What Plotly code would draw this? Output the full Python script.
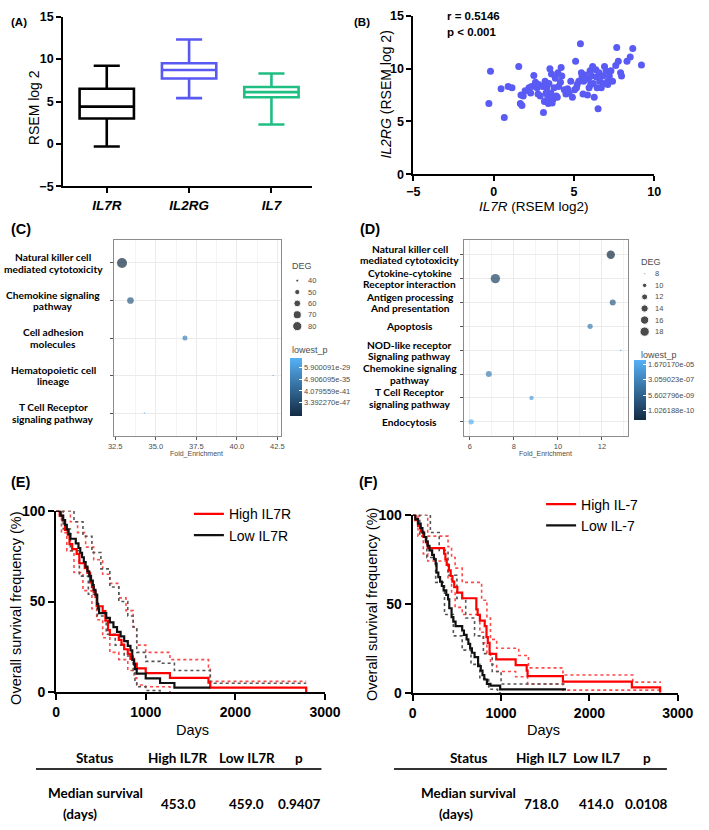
import math
import plotly.graph_objects as go

W, H = 709, 830
FONT = "Liberation Sans, Arial, sans-serif"
LFONT = "Lato, sans-serif"
GREY_TXT = "#4D4D4D"

# ---------------- (A) expression box plot ----------------
genes = ["IL7R", "IL2RG", "IL7"]
box_low = [-0.3, 5.4, 2.3]
box_q1 = [3.0, 7.7, 5.5]
box_med = [4.4, 8.7, 6.1]
box_q3 = [6.5, 9.5, 6.7]
box_high = [9.2, 12.3, 8.3]
box_colors = ["#000000", "#5858F2", "#1FBE82"]

# ---------------- (B) correlation scatter ----------------
b_il7r = [-0.2, -0.3, 0.46, 0.66, 0.9, 1.14, 1.56, 1.66, 1.76, 1.84, 1.96, 2.2, 2.36, 2.5, 2.6,
          2.7, 2.76, 2.8, 3.1, 3.04, 3.16, 3.2, 3.3, 3.36, 3.4, 3.44, 3.5, 3.56, 3.6, 3.7,
          3.76, 3.84, 4.0, 4.16, 4.2, 4.24, 3.96, 4.4, 4.5, 4.6, 4.8, 4.9, 5.04, 5.1, 5.16,
          5.3, 5.4, 5.46, 5.5, 5.56, 5.6, 5.7, 5.84, 5.9, 6.0, 6.1, 6.16, 6.2, 6.26, 6.36,
          6.4, 6.44, 6.5, 6.56, 6.6, 6.7, 6.8, 6.9, 7.0, 7.1, 7.2, 7.3, 7.4, 7.6, 7.66,
          7.76, 7.9, 7.96, 8.3, 8.5, 8.66, 9.2, 1.7, 2.3, 2.9, 3.26, 3.52, 3.64, 3.9, 4.04,
          4.7, 5.2, 5.94, 6.04, 6.8, 7.1]
b_il2rg = [9.75, 6.7, 8.1, 5.37, 8.3, 8.2, 10.2, 6.7, 6.5, 7.4, 7.9, 8.2, 8.3, 9.35, 8.7,
           8.2, 7.6, 8.5, 5.84, 8.3, 6.9, 8.8, 8.2, 7.4, 6.7, 8.6, 10.0, 7.7, 9.5, 7.1,
           8.2, 9.1, 9.6, 8.7, 10.1, 9.3, 7.3, 8.0, 7.6, 8.1, 8.8, 7.3, 8.0, 10.7, 8.2,
           8.8, 12.35, 9.6, 9.2, 7.6, 8.8, 9.4, 7.5, 9.0, 9.8, 9.3, 10.2, 8.6, 7.3, 9.9,
           9.2, 8.2, 6.2, 9.6, 8.8, 8.2, 9.3, 10.2, 9.8, 8.8, 9.3, 9.8, 8.8, 10.3, 12.0,
           10.7, 9.6, 9.3, 10.7, 11.1, 11.9, 10.35, 7.5, 7.7, 7.4, 7.7, 7.2, 6.75, 7.4, 8.3,
           7.7, 8.5, 8.2, 8.5, 8.6, 8.5]
b_stats = ["r = 0.5146", "p < 0.001"]

# ---------------- (C) KEGG dot plot ----------------
c_labels = [["Natural killer cell", "mediated cytotoxicity"], ["Chemokine signaling", "pathway"],
            ["Cell adhesion", "molecules"], ["Hematopoietic cell", "lineage"],
            ["T Cell Receptor", "signaling pathway"]]
c_fold = [32.92, 33.44, 36.8, 42.24, 34.3]
c_deg = [88, 59, 49, 37, 37]
c_logp = [-53.2, -42.0, -33.5, -24.5, -23.0]
c_deg_breaks = [40, 50, 60, 70, 80]
c_p_ticks = ["5.900091e-29", "4.906095e-35", "4.079559e-41", "3.392270e-47"]
c_p_range = [-53.2, -23.0]

# ---------------- (D) KEGG dot plot ----------------
d_labels = [["Natural killer cell", "mediated cytotoxicity"], ["Cytokine-cytokine", "Receptor interaction"],
            ["Antigen processing", "And presentation"], ["Apoptosis"],
            ["NOD-like receptor", "Signaling pathway"], ["Chemokine signaling", "pathway"],
            ["T Cell Receptor", "signaling pathway"], ["Endocytosis"]]
d_fold = [12.40, 7.16, 12.49, 11.46, 12.85, 6.86, 8.80, 6.06]
d_deg = [16, 18, 12, 11, 8, 12, 10, 11]
d_logp = [-11.13, -10.0, -8.6, -7.0, -5.0, -6.8, -5.3, -4.32]
d_deg_breaks = [8, 10, 12, 14, 16, 18]
d_p_ticks = ["1.670170e-05", "3.059023e-07", "5.602796e-09", "1.026188e-10"]
d_p_range = [-11.13, -4.32]

# ---------------- (E) KM IL7R ----------------
e_hi_t = [0, 40, 70, 100, 130, 150, 180, 230, 260, 320, 350, 380, 400, 420, 440, 453, 520, 550, 580,
          600, 700, 730, 760, 800, 830, 870, 900, 1000, 1270, 1700, 1720, 2790]
e_hi_s = [100, 97.4, 94.7, 89.5, 86.8, 81.6, 78.9, 76.3, 71.1, 68.4, 65.8, 60.5, 57.9, 55.3, 52.6, 47.4,
          44.7, 39.5, 34.2, 31.6, 28.9, 26.3, 23.7, 21.1, 18.4, 15.8, 13.2, 10.5, 7.9, 5.3, 2.6, 0]
e_lo_t = [0, 50, 80, 100, 120, 140, 160, 220, 250, 270, 290, 310, 330, 350, 370, 390, 410, 420, 440,
          459, 470, 480, 560, 600, 640, 680, 720, 760, 800, 830, 850, 870, 880, 900, 1000, 1160, 1320, 1720]
e_lo_s = [100, 97.4, 94.9, 92.3, 89.7, 87.2, 84.6, 82.1, 79.5, 76.9, 74.4, 71.8, 69.2, 66.7, 64.1, 61.5,
          59.0, 56.4, 53.8, 48.7, 46.2, 43.6, 41.0, 38.5, 35.9, 33.3, 30.8, 28.2, 25.6, 23.1, 17.9, 15.4,
          12.8, 10.3, 7.7, 5.1, 2.6, 2.6]
e_hi_up_t = [0, 100, 160, 240, 330, 420, 520, 600, 700, 780, 860, 900, 1000, 1270, 1700, 1720, 2790]
e_hi_up_s = [100, 100, 94, 88, 80, 73, 65, 60, 52, 45, 36, 26, 22, 18, 14, 6, 6]
e_hi_dn_t = [0, 60, 120, 200, 300, 400, 453, 520, 600, 700, 800, 870, 900, 1000, 1270]
e_hi_dn_s = [100, 88, 78, 66, 56, 46, 40, 30, 22, 18, 12, 8, 4, 3, 0]
e_lo_up_t = [0, 100, 200, 300, 400, 500, 600, 700, 800, 860, 900, 1000, 1160, 1320, 1720, 2790]
e_lo_up_s = [100, 100, 94, 86, 77, 68, 58, 50, 42, 36, 22, 17, 16, 12, 5, 5]
e_lo_dn_t = [0, 80, 160, 260, 360, 460, 560, 660, 760, 860, 880, 900, 1000, 1160]
e_lo_dn_s = [100, 90, 78, 64, 54, 42, 32, 26, 20, 12, 6, 3, 1, 0]
e_names = ["High IL7R", "Low IL7R"]
e_table_head = ["Status", "High IL7R", "Low IL7R", "p"]
e_table_vals = ["453.0", "459.0", "0.9407"]

# ---------------- (F) KM IL-7 ----------------
f_hi_t = [0, 30, 60, 90, 120, 150, 170, 355, 370, 385, 410, 430, 450, 470, 505, 560, 720, 735, 760, 815,
          835, 850, 870, 945, 1165, 1290, 1300, 1700, 2480, 2800]
f_hi_s = [100, 96.9, 93.8, 90.6, 87.5, 84.4, 81.3, 78.1, 75.0, 71.9, 68.8, 65.6, 62.5, 59.4, 56.3, 53.1,
          46.9, 43.8, 40.6, 37.5, 31.3, 28.1, 21.9, 18.8, 15.6, 12.5, 9.4, 6.3, 3.1, 0]
f_lo_t = [0, 30, 60, 90, 110, 130, 150, 170, 190, 220, 240, 260, 270, 290, 310, 330, 350, 380, 400, 414,
          440, 460, 485, 560, 580, 610, 630, 650, 670, 700, 740, 770, 790, 810, 840, 880, 990, 1735]
f_lo_s = [100, 97.5, 95, 92.5, 90, 87.5, 85, 82.5, 80, 77.5, 75, 72.5, 67.5, 65, 62.5, 60, 57.5, 55, 52.5,
          47.5, 42.5, 40, 37.5, 35, 32.5, 30, 27.5, 25, 22.5, 20, 15, 12.5, 10, 7.5, 5, 4, 2, 2]
f_hi_up_t = [0, 100, 170, 360, 400, 440, 480, 560, 740, 780, 840, 880, 950, 1200, 1310, 1700, 2490, 2810]
f_hi_up_s = [100, 100, 88, 88, 82, 76, 70, 62, 62, 52, 42, 30, 25, 21, 14, 10, 6, 6]
f_hi_dn_t = [0, 60, 120, 170, 360, 400, 440, 480, 560, 720, 760, 800, 840, 880, 950, 1165, 1300, 1700, 2810]
f_hi_dn_s = [100, 88, 78, 74, 74, 64, 56, 48, 44, 44, 34, 28, 22, 16, 12, 9, 5, 1.5, 1.5]
f_lo_up_t = [0, 100, 200, 300, 400, 500, 600, 700, 800, 900, 1000, 1735]
f_lo_up_s = [100, 100, 90, 80, 66, 53, 42, 32, 22, 12, 5, 5]
f_lo_dn_t = [0, 80, 160, 260, 360, 460, 560, 660, 760, 860, 960, 1000]
f_lo_dn_s = [100, 88, 76, 62, 44, 32, 24, 16, 8, 2, 0, 0]
f_names = ["High IL-7", "Low IL-7"]
f_table_head = ["Status", "High IL7", "Low IL7", "p"]
f_table_vals = ["718.0", "414.0", "0.0108"]


def px(x):
    return x / W


def py(y):
    return 1 - y / H


def dom_x(a, b):
    return [a / W, b / W]


def dom_y(top, bottom):
    return [1 - bottom / H, 1 - top / H]


def deg_size(v, vmin, vmax, dmin, dmax):
    f = (v - vmin) / (vmax - vmin)
    f = max(0.0, min(1.0, f))
    return math.sqrt(dmin ** 2 + (dmax ** 2 - dmin ** 2) * f)


fig = go.Figure()

# (A)
for i, g in enumerate(genes):
    fig.add_trace(go.Box(x=[g], q1=[box_q1[i]], median=[box_med[i]], q3=[box_q3[i]],
                         lowerfence=[box_low[i]], upperfence=[box_high[i]],
                         line=dict(color=box_colors[i], width=2.6), fillcolor="white",
                         width=0.66, whiskerwidth=0.48, boxpoints=False, showlegend=False,
                         xaxis="x", yaxis="y"))

# (B)
fig.add_trace(go.Scatter(x=b_il7r, y=b_il2rg, mode="markers",
                         marker=dict(size=7, color="#5A5AF4"), showlegend=False,
                         xaxis="x2", yaxis="y2"))

# (C)
C_SZ = dict(vmin=min(c_deg), vmax=max(c_deg), dmin=1.6, dmax=10)
fig.add_trace(go.Scatter(x=c_fold, y=list(range(len(c_fold))), mode="markers",
                         marker=dict(size=[deg_size(v, **C_SZ) for v in c_deg], color=c_logp,
                                     coloraxis="coloraxis", line=dict(width=0)),
                         showlegend=False, xaxis="x3", yaxis="y3"))
# (D)
D_SZ = dict(vmin=min(d_deg), vmax=max(d_deg), dmin=1.6, dmax=9.3)
fig.add_trace(go.Scatter(x=d_fold, y=list(range(len(d_fold))), mode="markers",
                         marker=dict(size=[deg_size(v, **D_SZ) for v in d_deg], color=d_logp,
                                     coloraxis="coloraxis2", line=dict(width=0)),
                         showlegend=False, xaxis="x4", yaxis="y4"))

# size legends drawn on an overlay pixel axis
c_leg_y = [278 + 11.6 * i for i in range(len(c_deg_breaks))]
d_leg_y = [271 + 11.8 * i for i in range(len(d_deg_breaks))]
fig.add_trace(go.Scatter(x=[300] * len(c_deg_breaks), y=c_leg_y, mode="markers",
                         marker=dict(size=[deg_size(v, **C_SZ) for v in c_deg_breaks], color="black"),
                         showlegend=False, xaxis="x7", yaxis="y7"))
fig.add_trace(go.Scatter(x=[659] * len(d_deg_breaks), y=d_leg_y, mode="markers",
                         marker=dict(size=[deg_size(v, **D_SZ) for v in d_deg_breaks], color="black"),
                         showlegend=False, xaxis="x7", yaxis="y7"))


# (E) and (F) KM curves
def km(t, s, color, ax, name=None, legend=None, dot=False):
    fig.add_trace(go.Scatter(
        x=t, y=s, mode="lines", line_shape="hv",
        line=dict(color=color, width=1.6 if dot else 2.2, dash="dot" if dot else "solid"),
        name=name, showlegend=name is not None, legend=legend,
        xaxis="x" + ax, yaxis="y" + ax))


RED, BLK, RED_D, BLK_D = "#FF0000", "#111111", "#FF4A4A", "#555555"
km(e_hi_up_t, e_hi_up_s, RED_D, "5", dot=True)
km(e_hi_dn_t, e_hi_dn_s, RED_D, "5", dot=True)
km(e_lo_up_t, e_lo_up_s, BLK_D, "5", dot=True)
km(e_lo_dn_t, e_lo_dn_s, BLK_D, "5", dot=True)
km(e_hi_t, e_hi_s, RED, "5", name=e_names[0], legend="legend")
km(e_lo_t, e_lo_s, BLK, "5", name=e_names[1], legend="legend")

km(f_hi_up_t, f_hi_up_s, RED_D, "6", dot=True)
km(f_hi_dn_t, f_hi_dn_s, RED_D, "6", dot=True)
km(f_lo_up_t, f_lo_up_s, BLK_D, "6", dot=True)
km(f_lo_dn_t, f_lo_dn_s, BLK_D, "6", dot=True)
km(f_hi_t, f_hi_s, RED, "6", name=f_names[0], legend="legend2")
km(f_lo_t, f_lo_s, BLK, "6", name=f_names[1], legend="legend2")

# ---------------- axes ----------------
bold_tick = dict(family=FONT, size=12.5, color="black", weight="bold")
common_black = dict(showline=True, linewidth=2, linecolor="black", ticks="outside", ticklen=5,
                    tickwidth=2, tickcolor="black", showgrid=False, zeroline=False)

layout_axes = dict(
    xaxis=dict(domain=dom_x(58, 315), anchor="y", type="category", range=[-0.53, 2.49],
               tickmode="array", tickvals=genes, ticktext=["<i>" + g + "</i>" for g in genes],
               tickfont=dict(family=FONT, size=13.5, color="black", weight="bold"), **common_black),
    yaxis=dict(domain=dom_y(8.7, 182), anchor="x", range=[-5, 15], tickvals=[-5, 0, 5, 10, 15],
               tickfont=bold_tick, **common_black),
    xaxis2=dict(domain=dom_x(420, 669), anchor="y2", range=[-5, 10], tickvals=[-5, 0, 5, 10],
                tickfont=bold_tick, **common_black),
    yaxis2=dict(domain=dom_y(8, 169.5), anchor="x2", range=[0, 15], tickvals=[0, 5, 10, 15],
                tickfont=bold_tick, **common_black),
)

gg = dict(showline=True, mirror=True, linecolor="#8C8C8C", linewidth=1, ticks="outside", ticklen=3,
          tickcolor="#555555", tickwidth=1, showgrid=True, gridcolor="#EBEBEB", gridwidth=1,
          zeroline=False, tickfont=dict(family=FONT, size=7.5, color=GREY_TXT))
layout_axes.update(
    xaxis3=dict(domain=dom_x(111, 283), anchor="y3", range=[32.45, 42.71], tick0=32.5, dtick=2.5,
                tickformat=".1f", minor=dict(dtick=1.25, showgrid=True, gridcolor="#F4F4F4", gridwidth=0.7),
                **gg),
    yaxis3=dict(domain=dom_y(237, 436), anchor="x3", range=[len(c_fold) - 0.4, -0.6],
                tickvals=list(range(len(c_fold))), showticklabels=False, **gg),
    xaxis4=dict(domain=dom_x(472, 642), anchor="y4", range=[5.72, 13.19], tick0=6, dtick=2,
                minor=dict(dtick=1, showgrid=True, gridcolor="#F4F4F4", gridwidth=0.7), **gg),
    yaxis4=dict(domain=dom_y(237, 436.5), anchor="x4", range=[len(d_fold) - 0.4, -0.6],
                tickvals=list(range(len(d_fold))), showticklabels=False, **gg),
)

km_tick = dict(family=FONT, size=14, color="black", weight="bold")
km_ax = dict(showline=True, linewidth=2, linecolor="black", ticks="outside", ticklen=6, tickwidth=2,
             tickcolor="black", showgrid=False, zeroline=False, tickfont=km_tick)
layout_axes.update(
    xaxis5=dict(domain=dom_x(50.7, 328.7), anchor="y5", range=[0, 3000], tickvals=[0, 1000, 2000, 3000], **km_ax),
    yaxis5=dict(domain=dom_y(512.7, 697.7), anchor="x5", range=[0, 100], tickvals=[0, 50, 100], **km_ax),
    xaxis6=dict(domain=dom_x(419.3, 693.3), anchor="y6", range=[0, 3000], tickvals=[0, 1000, 2000, 3000], **km_ax),
    yaxis6=dict(domain=dom_y(516.7, 698.3), anchor="x6", range=[0, 100], tickvals=[0, 50, 100], **km_ax),
    xaxis7=dict(domain=[0, 1], anchor="y7", range=[0, W], visible=False, fixedrange=True),
    yaxis7=dict(domain=[0, 1], anchor="x7", range=[H, 0], visible=False, fixedrange=True),
)

# ---------------- annotations ----------------
ann = []


def text(x, y, s, size=12, bold=False, color="black", family=FONT, xanchor="center", angle=0):
    ann.append(dict(x=px(x), y=py(y), xref="paper", yref="paper", text=s, showarrow=False,
                    xanchor=xanchor, yanchor="middle", textangle=angle,
                    font=dict(family=family, size=size, color=color,
                              weight="bold" if bold else "normal")))


text(2, 14, "(A)", 11.5, True, xanchor="left")
text(357, 14, "(B)", 11.5, True, xanchor="left")
text(2, 225, "(C)", 14.5, True, xanchor="left")
text(363, 225, "(D)", 14.5, True, xanchor="left")
text(2, 483, "(E)", 14.5, True, xanchor="left")
text(362, 483, "(F)", 14.5, True, xanchor="left")

text(28, 102, "RSEM log 2", 14, angle=-90)
text(392, 88, "<i>IL2RG</i> (RSEM log 2)", 14, angle=-90)
text(545, 202, "<i>IL7R</i> (RSEM log2)", 13.5)
text(453, 8, b_stats[0], 11.5, True, xanchor="left")
text(453, 24, b_stats[1], 11.5, True, xanchor="left")


def term_labels(labels, yref, xc, gap):
    for i, lines in enumerate(labels):
        n = len(lines)
        for j, line in enumerate(lines):
            shift = ((n - 1) / 2 - j) * gap
            ann.append(dict(x=px(xc), y=i, xref="paper", yref=yref, text=line, showarrow=False,
                            xanchor="center", yanchor="middle", yshift=shift,
                            font=dict(family=LFONT, size=10.2, color="black", weight="bold")))


term_labels(c_labels, "y3", 48, 11.7)
term_labels(d_labels, "y4", 416, 11.2)

text(196, 455, "Fold_Enrichment", 7, color=GREY_TXT)
text(557, 455, "Fold_Enrichment", 7, color=GREY_TXT)
text(293, 263, "DEG", 9, color=GREY_TXT, xanchor="left")
text(293, 349, "lowest_p", 9, color=GREY_TXT, xanchor="left")
text(653, 259, "DEG", 9, color=GREY_TXT, xanchor="left")
text(653, 354, "lowest_p", 9, color=GREY_TXT, xanchor="left")
for v, yy in zip(c_deg_breaks, c_leg_y):
    text(309, yy, str(v), 7.5, color=GREY_TXT, xanchor="left")
for v, yy in zip(d_deg_breaks, d_leg_y):
    text(668, yy, str(v), 7.5, color=GREY_TXT, xanchor="left")

text(10, 612, "Overall survival frequency (%)", 14.5, angle=-90)
text(378, 608, "Overall survival frequency (%)", 14.5, angle=-90)
text(192, 736, "Days", 14.5)
text(554, 736, "Days", 14.5)

TS = 13.5
for xs, head, vals, dx in [([91, 177, 248, 302], e_table_head, e_table_vals, 75),
                           ([477, 552, 609, 661], f_table_head, f_table_vals, 464)]:
    for x, h in zip(xs, head):
        text(x, 765, h, TS, True, family=LFONT)
    text(xs[0], 800, "Median survival", TS, True, family=LFONT)
    for x, v in zip(xs[1:], vals):
        text(x, 812, v, TS, True, family=LFONT)
    text(dx, 822, "(days)", TS, True, family=LFONT)

shapes = [dict(type="line", xref="paper", yref="paper", x0=px(30), x1=px(325), y0=py(776), y1=py(776),
               line=dict(color="#333333", width=2)),
          dict(type="line", xref="paper", yref="paper", x0=px(400), x1=px(682), y0=py(776), y1=py(776),
               line=dict(color="#333333", width=2))]


def cbar(x, ycenter, length, ticks, rng):
    return dict(colorscale=[[0, "#132B43"], [1, "#56B1F7"]], cmin=rng[0], cmax=rng[1],
                colorbar=dict(x=px(x), xanchor="left", y=py(ycenter), yanchor="middle",
                              len=length, lenmode="pixels", thickness=12, thicknessmode="pixels",
                              xpad=0, ypad=0, outlinewidth=0, ticks="inside", ticklen=3,
                              tickcolor="white", tickvals=[math.log10(float(t)) for t in ticks],
                              ticktext=ticks, tickfont=dict(family=FONT, size=7.5, color=GREY_TXT)))


leg_font = dict(family=FONT, size=14, color="black")
fig.update_layout(
    width=W, height=H, margin=dict(l=0, r=0, t=0, b=0),
    paper_bgcolor="white", plot_bgcolor="rgba(0,0,0,0)",
    font=dict(family=FONT, color="black"),
    annotations=ann, shapes=shapes,
    coloraxis=cbar(293, 386, 58, c_p_ticks, c_p_range),
    coloraxis2=cbar(648, 390, 60, d_p_ticks, d_p_range),
    legend=dict(x=px(188), y=py(500), xanchor="left", yanchor="top", bgcolor="rgba(0,0,0,0)",
                font=leg_font, tracegroupgap=0, itemwidth=30),
    legend2=dict(x=px(552), y=py(490), xanchor="left", yanchor="top", bgcolor="rgba(0,0,0,0)",
                 font=leg_font, tracegroupgap=0, itemwidth=30),
    **layout_axes,
)

fig.write_html("out.html", config={"displayModeBar": False},
               post_script="document.body.style.margin='0px';document.body.style.overflow='hidden';")
